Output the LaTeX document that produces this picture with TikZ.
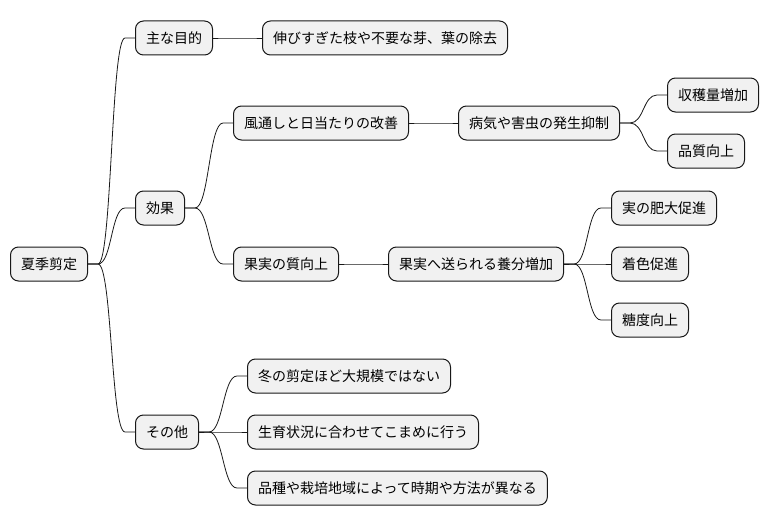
\documentclass[tikz,border=0pt]{standalone}
\usepackage{fontspec}
\setmainfont{Noto Sans CJK JP}
\usetikzlibrary{calc}
\definecolor{nodefill}{HTML}{F1F1F1}
\definecolor{linecol}{HTML}{181818}
\begin{document}
\begin{tikzpicture}[x=1pt,y=-1pt,
 box/.style={draw=linecol, fill=nodefill, line width=1pt, rounded corners=8pt, minimum height=34pt, inner xsep=10.5pt, inner ysep=0pt, anchor=west, font=\fontsize{14pt}{16pt}\selectfont},
 branch/.style={to path={-- ++(10,0) .. controls +(14,0) and +(-14,0) .. ($(\tikztotarget)+(-10,0)$) -- (\tikztotarget)}},
 conn/.style={draw=linecol, line width=0.8pt}]
\useasboundingbox (0,0) rectangle (768,527);
\node[box] (root) at (10,264) {夏季剪定};
\node[box] (a) at (135,38) {主な目的};
\node[box] (a1) at (262,38) {伸びすぎた枝や不要な芽、葉の除去};
\node[box] (b) at (135,208) {効果};
\node[box] (b1) at (233,123) {風通しと日当たりの改善};
\node[box] (b11) at (458,123) {病気や害虫の発生抑制};
\node[box] (b111) at (667,95) {収穫量増加};
\node[box] (b112) at (667,151) {品質向上};
\node[box] (b2) at (233,264) {果実の質向上};
\node[box] (b21) at (388,264) {果実へ送られる養分増加};
\node[box] (b211) at (611,208) {実の肥大促進};
\node[box] (b212) at (611,264) {着色促進};
\node[box] (b213) at (611,320) {糖度向上};
\node[box] (c) at (135,432) {その他};
\node[box] (c1) at (247,376) {冬の剪定ほど大規模ではない};
\node[box] (c2) at (247,432) {生育状況に合わせてこまめに行う};
\node[box] (c3) at (247,488) {品種や栽培地域によって時期や方法が異なる};
\draw[conn] (root.east) to[branch] (a.west);
\draw[conn] (root.east) to[branch] (b.west);
\draw[conn] (root.east) to[branch] (c.west);
\draw[conn] (a.east) to[branch] (a1.west);
\draw[conn] (b.east) to[branch] (b1.west);
\draw[conn] (b.east) to[branch] (b2.west);
\draw[conn] (b1.east) to[branch] (b11.west);
\draw[conn] (b11.east) to[branch] (b111.west);
\draw[conn] (b11.east) to[branch] (b112.west);
\draw[conn] (b2.east) to[branch] (b21.west);
\draw[conn] (b21.east) to[branch] (b211.west);
\draw[conn] (b21.east) to[branch] (b212.west);
\draw[conn] (b21.east) to[branch] (b213.west);
\draw[conn] (c.east) to[branch] (c1.west);
\draw[conn] (c.east) to[branch] (c2.west);
\draw[conn] (c.east) to[branch] (c3.west);
\end{tikzpicture}
\end{document}
